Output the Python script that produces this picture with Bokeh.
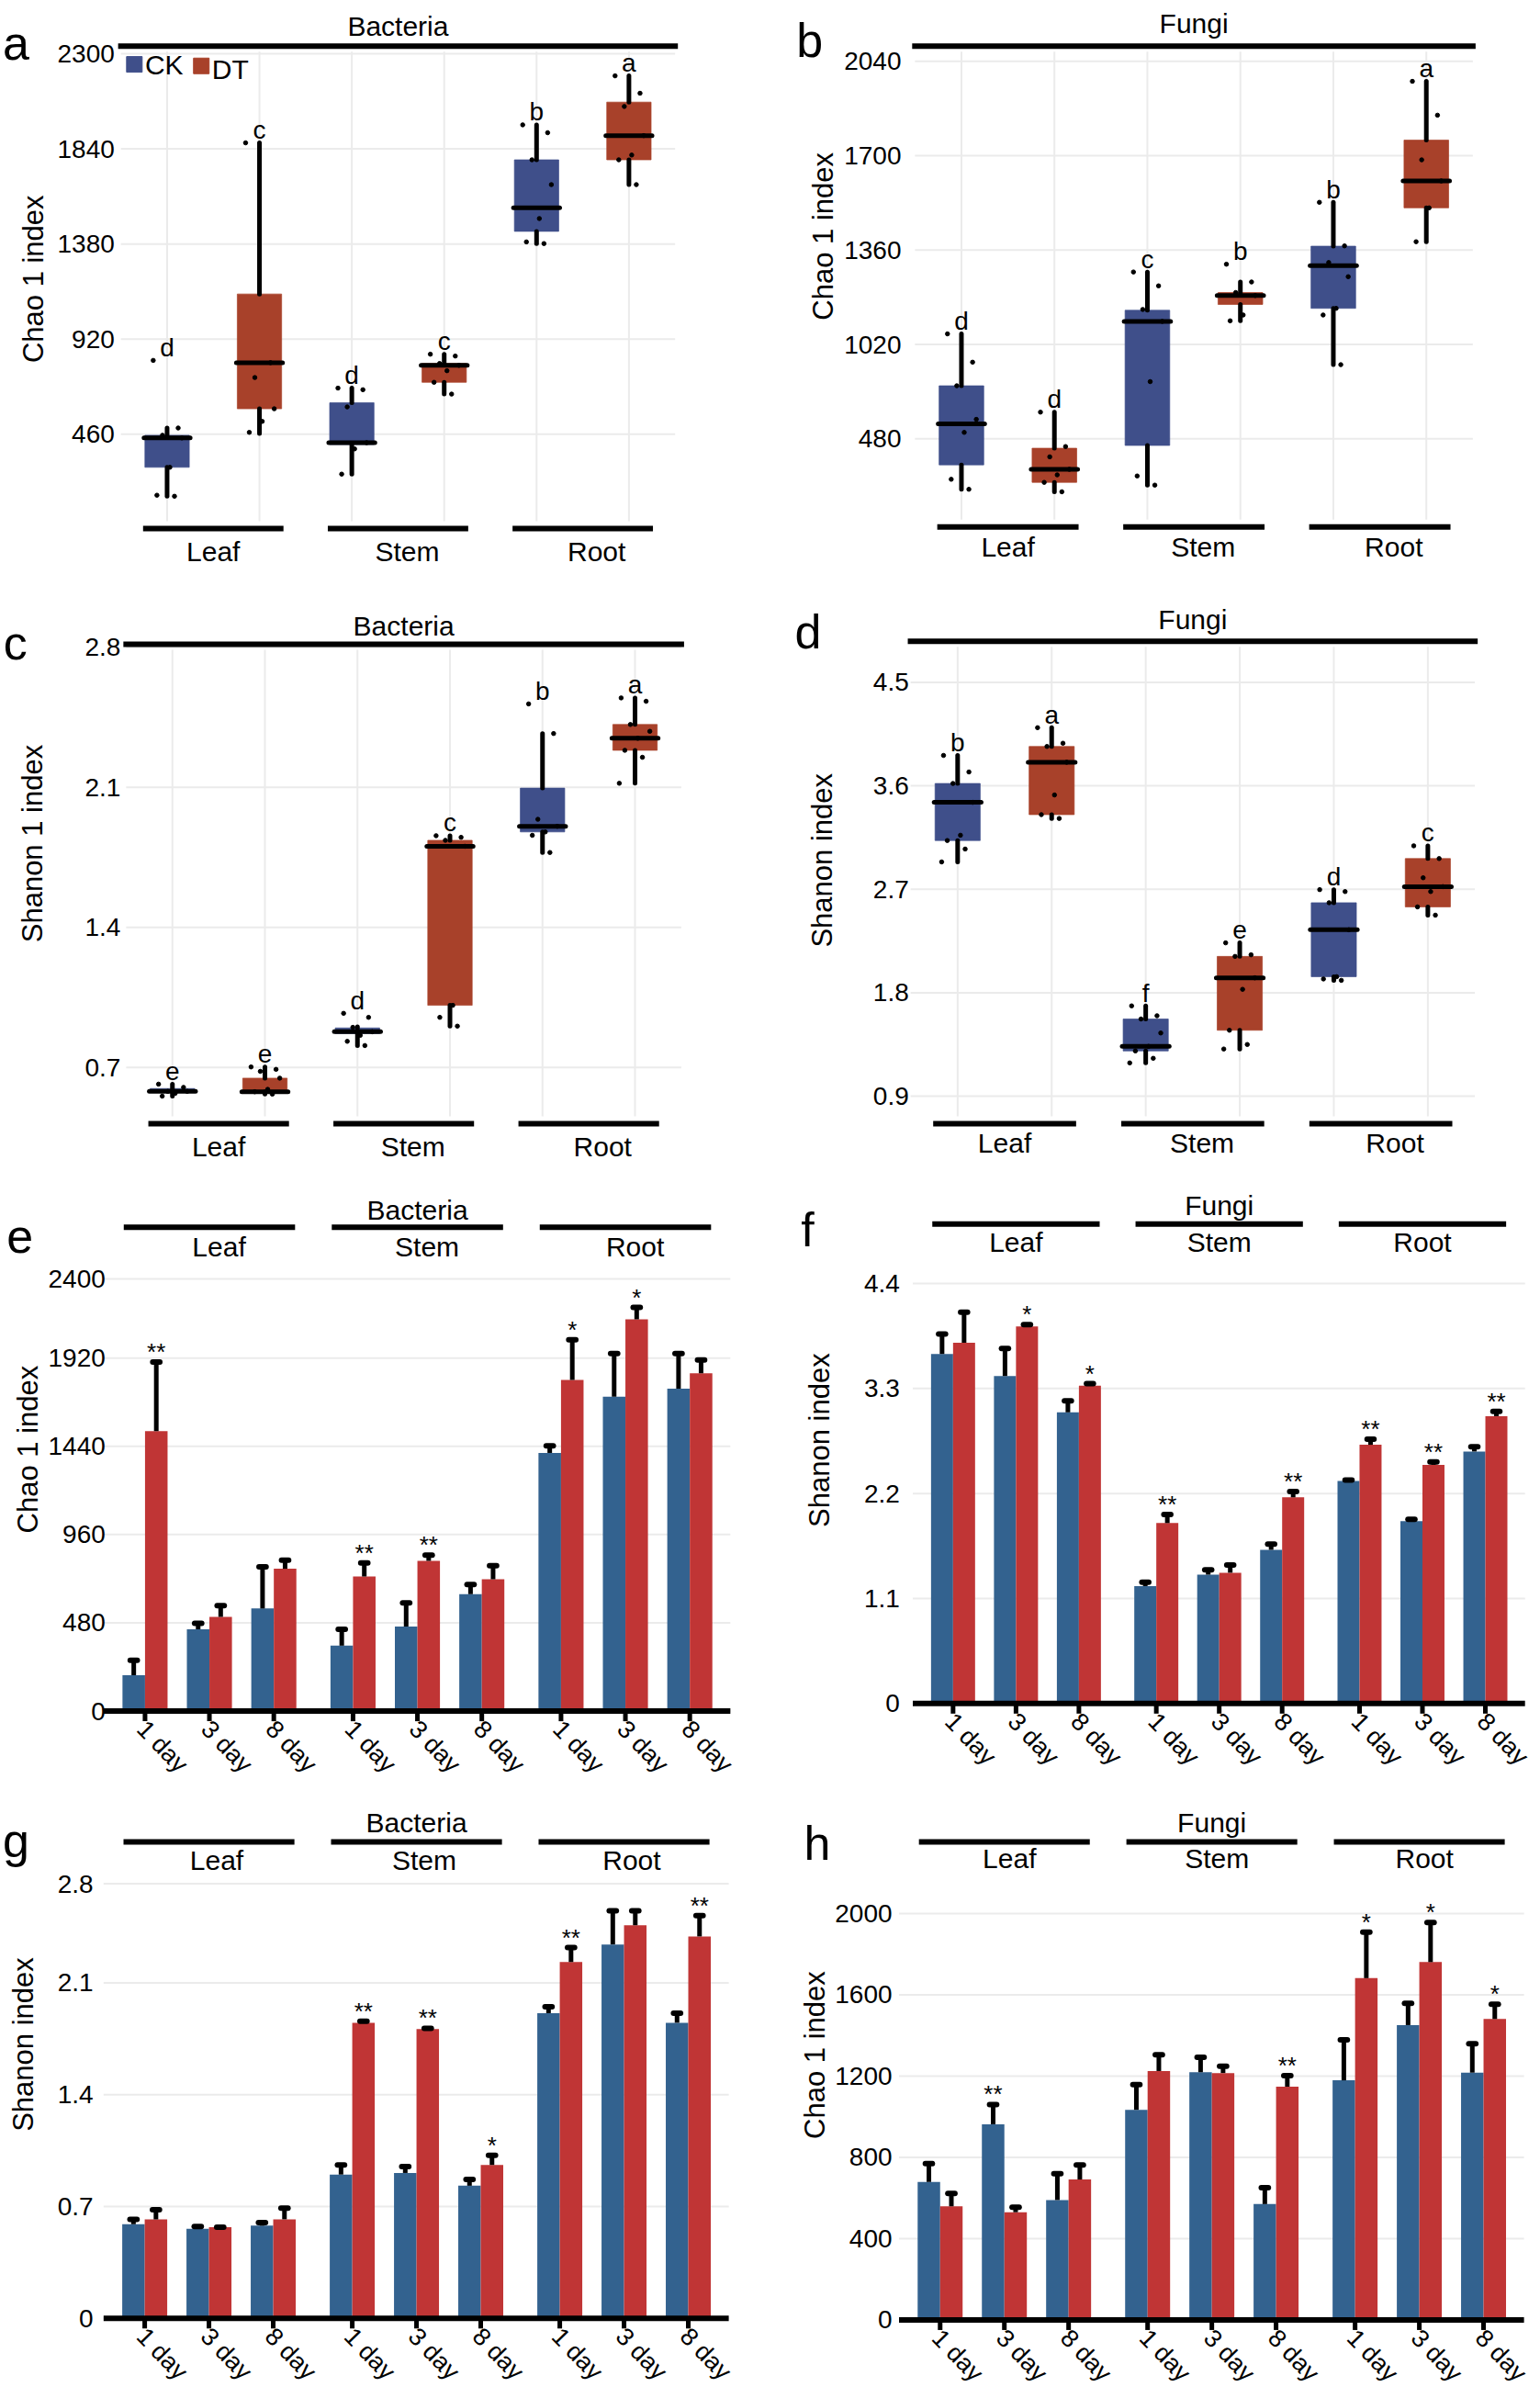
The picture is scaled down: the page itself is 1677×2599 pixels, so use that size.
import math
from bokeh.plotting import figure
from bokeh.layouts import column, row
from bokeh.models import Range1d
from bokeh.core.properties import value
from bokeh.embed import file_html
from bokeh.resources import INLINE

# ---------------- data ----------------
tissues = ["Leaf", "Stem", "Root"]
treatments = ["CK", "DT"]
days = ["1 day", "3 day", "8 day"]
# box order: CK-Leaf, DT-Leaf, CK-Stem, DT-Stem, CK-Root, DT-Root

# (a) Bacteria, Chao 1 index
a_low = [160, 464, 267, 654, 1382, 1667]
a_q1 = [300, 583, 410, 711, 1441, 1787]
a_med = [442, 806, 419, 793, 1555, 1904]
a_q3 = [455, 1138, 612, 802, 1787, 2066]
a_high = [490, 1869, 683, 847, 1956, 2193]
a_points = [
    [817, 490, 455, 442, 300, 165, 160],
    [1869, 806, 734, 583, 522, 469],
    [683, 675, 592, 419, 389, 267],
    [847, 838, 802, 793, 767, 711, 654],
    [1956, 1918, 1787, 1667, 1503, 1390, 1382],
    [2193, 2109, 2045, 1904, 1810, 1787, 1667],
]
a_letters = ["d", "c", "d", "c", "b", "a"]
a_ticks = [460, 920, 1380, 1840, 2300]
a_tick_labels = ["460", "920", "1380", "1840", "2300"]

# (b) Fungi, Chao 1 index
b_low = [498, 489, 513, 1105, 947, 1390]
b_q1 = [586, 523, 656, 1164, 1150, 1512]
b_med = [734, 570, 1103, 1196, 1304, 1609]
b_q3 = [871, 646, 1143, 1207, 1374, 1756]
b_high = [1058, 776, 1281, 1245, 1532, 1968]
b_points = [
    [1058, 956, 871, 750, 703, 534, 498],
    [776, 652, 615, 570, 550, 523, 489],
    [1281, 1231, 1146, 1103, 886, 546, 513],
    [1309, 1245, 1207, 1196, 1126, 1105],
    [1532, 1375, 1315, 1264, 1150, 1126, 947],
    [1968, 1846, 1685, 1609, 1512, 1390],
]
b_letters = ["d", "d", "c", "b", "b", "a"]
b_ticks = [680, 1020, 1360, 1700, 2040]
b_tick_labels = ["480", "1020", "1360", "1700", "2040"]

# (c) Bacteria, Shanon 1 index
c_low = [0.556, 0.566, 0.809, 0.906, 1.774, 2.12]
c_q1 = [0.575, 0.578, 0.869, 1.01, 1.877, 2.285]
c_med = [0.58, 0.578, 0.878, 1.805, 1.905, 2.345]
c_q3 = [0.594, 0.646, 0.897, 1.835, 2.096, 2.414]
c_high = [0.616, 0.702, 0.903, 1.858, 2.369, 2.547]
c_points = [
    [0.616, 0.60, 0.58, 0.58, 0.57, 0.556],
    [0.702, 0.69, 0.68, 0.646, 0.59, 0.578, 0.566],
    [0.97, 0.95, 0.90, 0.878, 0.86, 0.83, 0.809],
    [1.858, 1.85, 1.835, 1.805, 1.01, 0.95, 0.906],
    [2.517, 2.369, 1.94, 1.905, 1.877, 1.86, 1.774],
    [2.547, 2.53, 2.414, 2.38, 2.345, 2.285, 2.25, 2.12],
]
c_letters = ["e", "e", "d", "c", "b", "a"]
c_ticks = [0.7, 1.4, 2.1, 2.8]
c_tick_labels = ["0.7", "1.4", "2.1", "2.8"]

# (d) Fungi, Shanon index
d_low = [2.938, 3.316, 1.19, 1.311, 1.908, 2.475]
d_q1 = [3.124, 3.349, 1.294, 1.474, 1.94, 2.547]
d_med = [3.456, 3.805, 1.334, 1.93, 2.348, 2.723]
d_q3 = [3.62, 3.942, 1.572, 2.116, 2.583, 2.967]
d_high = [3.864, 4.105, 1.686, 2.234, 2.697, 3.078]
d_points = [
    [3.864, 3.72, 3.62, 3.456, 3.17, 3.124, 3.05, 2.938],
    [4.105, 3.97, 3.942, 3.805, 3.52, 3.349, 3.316],
    [1.686, 1.60, 1.572, 1.45, 1.334, 1.294, 1.23, 1.19],
    [2.234, 2.13, 2.116, 1.93, 1.83, 1.474, 1.35, 1.311],
    [2.697, 2.68, 2.583, 2.348, 1.94, 1.92, 1.908],
    [3.078, 2.967, 2.8, 2.723, 2.68, 2.547, 2.475],
]
d_letters = ["b", "a", "f", "e", "d", "c"]
d_ticks = [0.9, 1.8, 2.7, 3.6, 4.5]
d_tick_labels = ["0.9", "1.8", "2.7", "3.6", "4.5"]

# bar panels: order Leaf 1/3/8 day, Stem 1/3/8 day, Root 1/3/8 day
# (e) Bacteria, Chao 1 index
e_ck = [195, 445, 558, 356, 460, 636, 1404, 1710, 1754]
e_ck_err = [81, 32, 227, 89, 128, 53, 38, 235, 191]
e_dt = [1523, 513, 774, 732, 817, 717, 1801, 2130, 1837]
e_dt_err = [375, 60, 47, 74, 31, 74, 218, 65, 72]
e_sig = ["**", "", "", "**", "**", "", "*", "*", ""]
e_ticks = [0, 480, 960, 1440, 1920, 2350]
e_tick_labels = ["0", "480", "960", "1440", "1920", "2400"]

# (f) Fungi, Shanon index
f_ck = [3.66, 3.43, 3.05, 1.23, 1.35, 1.61, 2.33, 1.91, 2.64]
f_ck_err = [0.21, 0.29, 0.12, 0.04, 0.05, 0.06, 0.01, 0.02, 0.05]
f_dt = [3.78, 3.95, 3.33, 1.89, 1.37, 2.16, 2.71, 2.50, 3.01]
f_dt_err = [0.32, 0.02, 0.02, 0.09, 0.08, 0.06, 0.06, 0.03, 0.05]
f_sig = ["", "*", "*", "**", "", "**", "**", "**", "**"]
f_ticks = [0, 1.1, 2.2, 3.3, 4.4]
f_tick_labels = ["0", "1.1", "2.2", "3.3", "4.4"]

# (g) Bacteria, Shanon index
g_ck = [0.59, 0.56, 0.58, 0.90, 0.91, 0.83, 1.91, 2.34, 1.85]
g_ck_err = [0.03, 0.015, 0.02, 0.06, 0.04, 0.04, 0.04, 0.21, 0.06]
g_dt = [0.62, 0.57, 0.62, 1.85, 1.81, 0.96, 2.23, 2.46, 2.39]
g_dt_err = [0.06, 0.0, 0.07, 0.01, 0.005, 0.06, 0.09, 0.09, 0.13]
g_sig = ["", "", "", "**", "**", "*", "**", "", "**"]
g_ticks = [0, 0.7, 1.4, 2.1, 2.72]
g_tick_labels = ["0", "0.7", "1.4", "2.1", "2.8"]

# (h) Fungi, Chao 1 index
h_ck = [679, 963, 590, 1034, 1219, 570, 1179, 1451, 1217]
h_ck_err = [90, 97, 130, 124, 73, 81, 199, 107, 142]
h_dt = [559, 530, 691, 1225, 1215, 1148, 1682, 1761, 1481]
h_dt_err = [63, 25, 71, 80, 33, 54, 226, 195, 73]
h_sig = ["", "**", "", "", "", "**", "*", "*", "*"]
h_ticks = [0, 400, 800, 1200, 1600, 2000]
h_tick_labels = ["0", "400", "800", "1200", "1600", "2000"]

# ---------------- style ----------------
FONT = "Liberation Sans"
CK_BOX, DT_BOX = "#3F4F8A", "#A8412A"
CK_BAR, DT_BAR = "#33628F", "#C03535"
GRID = "#EBEBEB"
S = 1677 / 1012.0
COL_X = [0, 838]
COL_W = [838, 839]
ROW_Y = [0, 640, 1284, 1938]
ROW_H = [640, 644, 654, 661]
JIT = [-0.15, 0.12, -0.05, 0.16, 0.03, -0.11, 0.08, -0.17]


class Panel:
    def __init__(self, col, rw, xa, xb, rxa, rxb, ya, yb, rya, ryb):
        W, H = COL_W[col], ROW_H[rw]
        self.ox, self.oy = COL_X[col], ROW_Y[rw]
        pxa, pxb = rxa * S - self.ox, rxb * S - self.ox
        self.kx = (xb - xa) / (pxb - pxa)
        self.x0 = xa - pxa * self.kx
        pya, pyb = rya * S - self.oy, ryb * S - self.oy
        self.ky = (ya - yb) / (pyb - pya)
        self.ytop = ya + pya * self.ky
        p = figure(width=W, height=H, title=None,
                   x_range=Range1d(self.x0, self.x0 + W * self.kx),
                   y_range=Range1d(self.ytop - H * self.ky, self.ytop),
                   output_backend="svg", toolbar_location=None, tools="",
                   min_border=0, x_axis_location=None, y_axis_location=None)
        p.grid.visible = False
        p.outline_line_color = None
        self.p = p

    def X(self, r):
        return self.x0 + (r * S - self.ox) * self.kx

    def Y(self, r):
        return self.ytop - (r * S - self.oy) * self.ky

    def dx(self, px):
        return px * self.kx

    def dy(self, px):
        return px * self.ky


def txt(p, xs, ys, texts, size, align="center", baseline="middle", angle=0.0, color="black"):
    p.text(x=xs, y=ys, text=texts, text_font=value(FONT),
           text_font_size=value(f"{size}px"), text_align=align,
           text_baseline=baseline, angle=angle, text_color=color)


def box_panel(col, rw, anchors, low, q1, med, q3, high, points, letters,
              ticks, tick_labels, title, ylabel, letter, geo, legend=False):
    P = Panel(col, rw, *anchors)
    p = P.p
    xs = [1, 2, 3, 4, 5, 6]
    n = len(ticks)
    ytb, ybb = P.Y(geo["top"]), P.Y(geo["bottom"])
    p.segment(x0=[0.5] * n, y0=ticks, x1=[6.5] * n, y1=ticks, line_color=GRID, line_width=2)
    p.segment(x0=xs, y0=[ybb + P.dy(8)] * 6, x1=xs, y1=[ytb - P.dy(6)] * 6, line_color=GRID, line_width=2)
    fills = [CK_BOX, DT_BOX] * 3
    p.quad(left=[x - 0.24 for x in xs], right=[x + 0.24 for x in xs], bottom=q1, top=q3,
           fill_color=fills, line_color=fills, line_alpha=0.7)
    p.segment(x0=xs, y0=low, x1=xs, y1=q1, line_width=5, line_color="black", line_cap="round")
    p.segment(x0=xs, y0=q3, x1=xs, y1=high, line_width=5, line_color="black", line_cap="round")
    p.segment(x0=[x - 0.25 for x in xs], y0=med, x1=[x + 0.25 for x in xs], y1=med,
              line_width=5, line_color="black", line_cap="round")
    pxs, pys = [], []
    for x, pts in zip(xs, points):
        for k, v in enumerate(pts):
            pxs.append(x + JIT[k % len(JIT)])
            pys.append(v)
    p.scatter(pxs, pys, size=4.5, color="black")
    tops = [max([h] + pts) for h, pts in zip(high, points)]
    txt(p, xs, [t + P.dy(14) for t in tops], letters, 28, baseline="alphabetic")
    # top bar + title
    p.segment(x0=[0.47], y0=[ytb], x1=[6.53], y1=[ytb], line_width=6, line_color="black")
    txt(p, [3.5], [P.Y(geo["title"])], [title], 30)
    # bottom group bars + labels
    cen = [1.5, 3.5, 5.5]
    p.segment(x0=[c - 0.76 for c in cen], y0=[ybb] * 3, x1=[c + 0.76 for c in cen], y1=[ybb] * 3,
              line_width=6, line_color="black")
    txt(p, [c + o for c, o in zip(cen, [0.0, 0.1, 0.15])], [P.Y(geo["glabel"])] * 3, tissues, 30)
    # tick labels, y title, panel letter
    txt(p, [P.X(geo["tickx"])] * n, ticks, tick_labels, 28, align="right")
    txt(p, [P.X(geo["ylx"])], [P.Y(geo["yly"])], [ylabel], 31, angle=math.pi / 2)
    txt(p, [P.X(geo["lx"])], [P.Y(geo["ly"])], [letter], 52, align="left", baseline="alphabetic")
    if legend:
        lx = [P.X(88), P.X(132)]
        ly = [P.Y(42), P.Y(43)]
        p.scatter(lx, ly, marker="square", size=17, color=[CK_BOX, DT_BOX])
        txt(p, [P.X(95), P.X(139)], [P.Y(42), P.Y(45)], treatments, 30, align="left")
    return p


def bar_panel(col, rw, anchors, ck, ck_err, dt, dt_err, sig, ticks, tick_labels,
              title, ylabel, letter, geo):
    P = Panel(col, rw, *anchors)
    p = P.p
    GAP = 3.23
    cen = [1 + d + g * GAP for g in range(3) for d in range(3)]
    half, w = 0.175, 0.35
    ax0, ax1 = cen[0] - 0.64, cen[-1] + 0.63
    n = len(ticks)
    p.segment(x0=[ax0] * n, y0=ticks, x1=[ax1] * n, y1=ticks, line_color=GRID, line_width=2)
    xck = [c - half for c in cen]
    xdt = [c + half for c in cen]
    p.vbar(x=xck, top=ck, bottom=0, width=w, fill_color=CK_BAR, line_color=None)
    p.vbar(x=xdt, top=dt, bottom=0, width=w, fill_color=DT_BAR, line_color=None)
    for xx, m, e in ((xck, ck, ck_err), (xdt, dt, dt_err)):
        tops = [a + b for a, b in zip(m, e)]
        p.segment(x0=xx, y0=m, x1=xx, y1=tops, line_width=5, line_color="black")
        p.segment(x0=[x - 0.055 for x in xx], y0=tops, x1=[x + 0.055 for x in xx], y1=tops,
                  line_width=6, line_color="black", line_cap="round")
    # significance marks over the taller bar of each pair
    sx, sy, st = [], [], []
    for i, s in enumerate(sig):
        if not s:
            continue
        tc, td = ck[i] + ck_err[i], dt[i] + dt_err[i]
        if tc > td:
            sx.append(xck[i]); sy.append(tc)
        else:
            sx.append(xdt[i]); sy.append(td)
        st.append(s)
    txt(p, sx, [v + P.dy(11) for v in sy], st, 26, baseline="alphabetic")
    # x axis
    p.segment(x0=[ax0], y0=[0], x1=[ax1], y1=[0], line_width=6, line_color="black")
    p.segment(x0=cen, y0=[0] * 9, x1=cen, y1=[-P.dy(11)] * 9, line_width=5, line_color="black")
    txt(p, [c - P.dx(4) for c in cen], [-P.dy(15)] * 9, days * 3, 27, align="left", angle=-0.8)
    # group bars, labels, title
    gc = [cen[1], cen[4], cen[7]]
    yb = P.Y(geo["gbar"])
    p.segment(x0=[c - 1.33 for c in gc], y0=[yb] * 3, x1=[c + 1.33 for c in gc], y1=[yb] * 3,
              line_width=6, line_color="black")
    txt(p, [c + geo["goff"] for c in gc], [P.Y(geo["glabel"])] * 3, tissues, 30)
    txt(p, [gc[1]], [P.Y(geo["title"])], [title], 30)
    txt(p, [P.X(geo["tickx"])] * n, ticks, tick_labels, 28, align="right")
    txt(p, [P.X(geo["ylx"])], [P.Y(geo["yly"])], [ylabel], 31, angle=math.pi / 2)
    txt(p, [P.X(geo["lx"])], [P.Y(geo["ly"])], [letter], 52, align="left", baseline="alphabetic")
    return p


pa = box_panel(0, 0, (1, 6, 109.5, 413, 2300, 460, 35, 285),
               a_low, a_q1, a_med, a_q3, a_high, a_points, a_letters, a_ticks, a_tick_labels,
               "Bacteria", "Chao 1 index", "a",
               dict(top=30, bottom=347, title=17, glabel=362, tickx=75, ylx=22, yly=183, lx=1.5, ly=28),
               legend=True)
pb = box_panel(1, 0, (1, 6, 631.5, 937, 2040, 680, 40, 288),
               b_low, b_q1, b_med, b_q3, b_high, b_points, b_letters, b_ticks, b_tick_labels,
               "Fungi", "Chao 1 index", "b",
               dict(top=30, bottom=346, title=15, glabel=359, tickx=592, ylx=541, yly=155, lx=523, ly=26))
pc = box_panel(0, 1, (1, 6, 113, 417, 2.8, 0.7, 425, 701),
               c_low, c_q1, c_med, c_q3, c_high, c_points, c_letters, c_ticks, c_tick_labels,
               "Bacteria", "Shanon 1 index", "c",
               dict(top=423, bottom=738, title=411, glabel=753, tickx=79, ylx=21, yly=554, lx=2, ly=422))
pd_ = box_panel(1, 1, (1, 6, 629, 938, 4.5, 0.9, 448, 720),
                d_low, d_q1, d_med, d_q3, d_high, d_points, d_letters, d_ticks, d_tick_labels,
                "Fungi", "Shanon index", "d",
                dict(top=421, bottom=738, title=407, glabel=751, tickx=597, ylx=540, yly=565, lx=522, ly=415))
pe = bar_panel(0, 2, (1, 9.46, 95, 453, 0, 1440, 1124, 950),
               e_ck, e_ck_err, e_dt, e_dt_err, e_sig, e_ticks, e_tick_labels,
               "Bacteria", "Chao 1 index", "e",
               dict(title=795, gbar=806, glabel=819, goff=0.15, tickx=69, ylx=18, yly=952, lx=4, ly=812))
pf = bar_panel(1, 2, (1, 9.46, 626, 975.8, 0, 2.2, 1119, 981),
               f_ck, f_ck_err, f_dt, f_dt_err, f_sig, f_ticks, f_tick_labels,
               "Fungi", "Shanon index", "f",
               dict(title=792, gbar=804, glabel=816, goff=0.0, tickx=591, ylx=538, yly=946, lx=526, ly=808))
pg = bar_panel(0, 3, (1, 9.46, 94.8, 452, 0, 1.4, 1523, 1376),
               g_ck, g_ck_err, g_dt, g_dt_err, g_sig, g_ticks, g_tick_labels,
               "Bacteria", "Shanon index", "g",
               dict(title=1197, gbar=1210, glabel=1222, goff=0.12, tickx=61, ylx=15, yly=1343, lx=1.5, ly=1209))
ph = bar_panel(1, 3, (1, 9.46, 617.5, 974.6, 0, 2000, 1524, 1257),
               h_ck, h_ck_err, h_dt, h_dt_err, h_sig, h_ticks, h_tick_labels,
               "Fungi", "Chao 1 index", "h",
               dict(title=1197, gbar=1210, glabel=1221, goff=0.08, tickx=586, ylx=535, yly=1350, lx=528, ly=1211))

layout = column(row(pa, pb), row(pc, pd_), row(pe, pf), row(pg, ph))
open("out.html", "w").write(file_html(layout, INLINE))
